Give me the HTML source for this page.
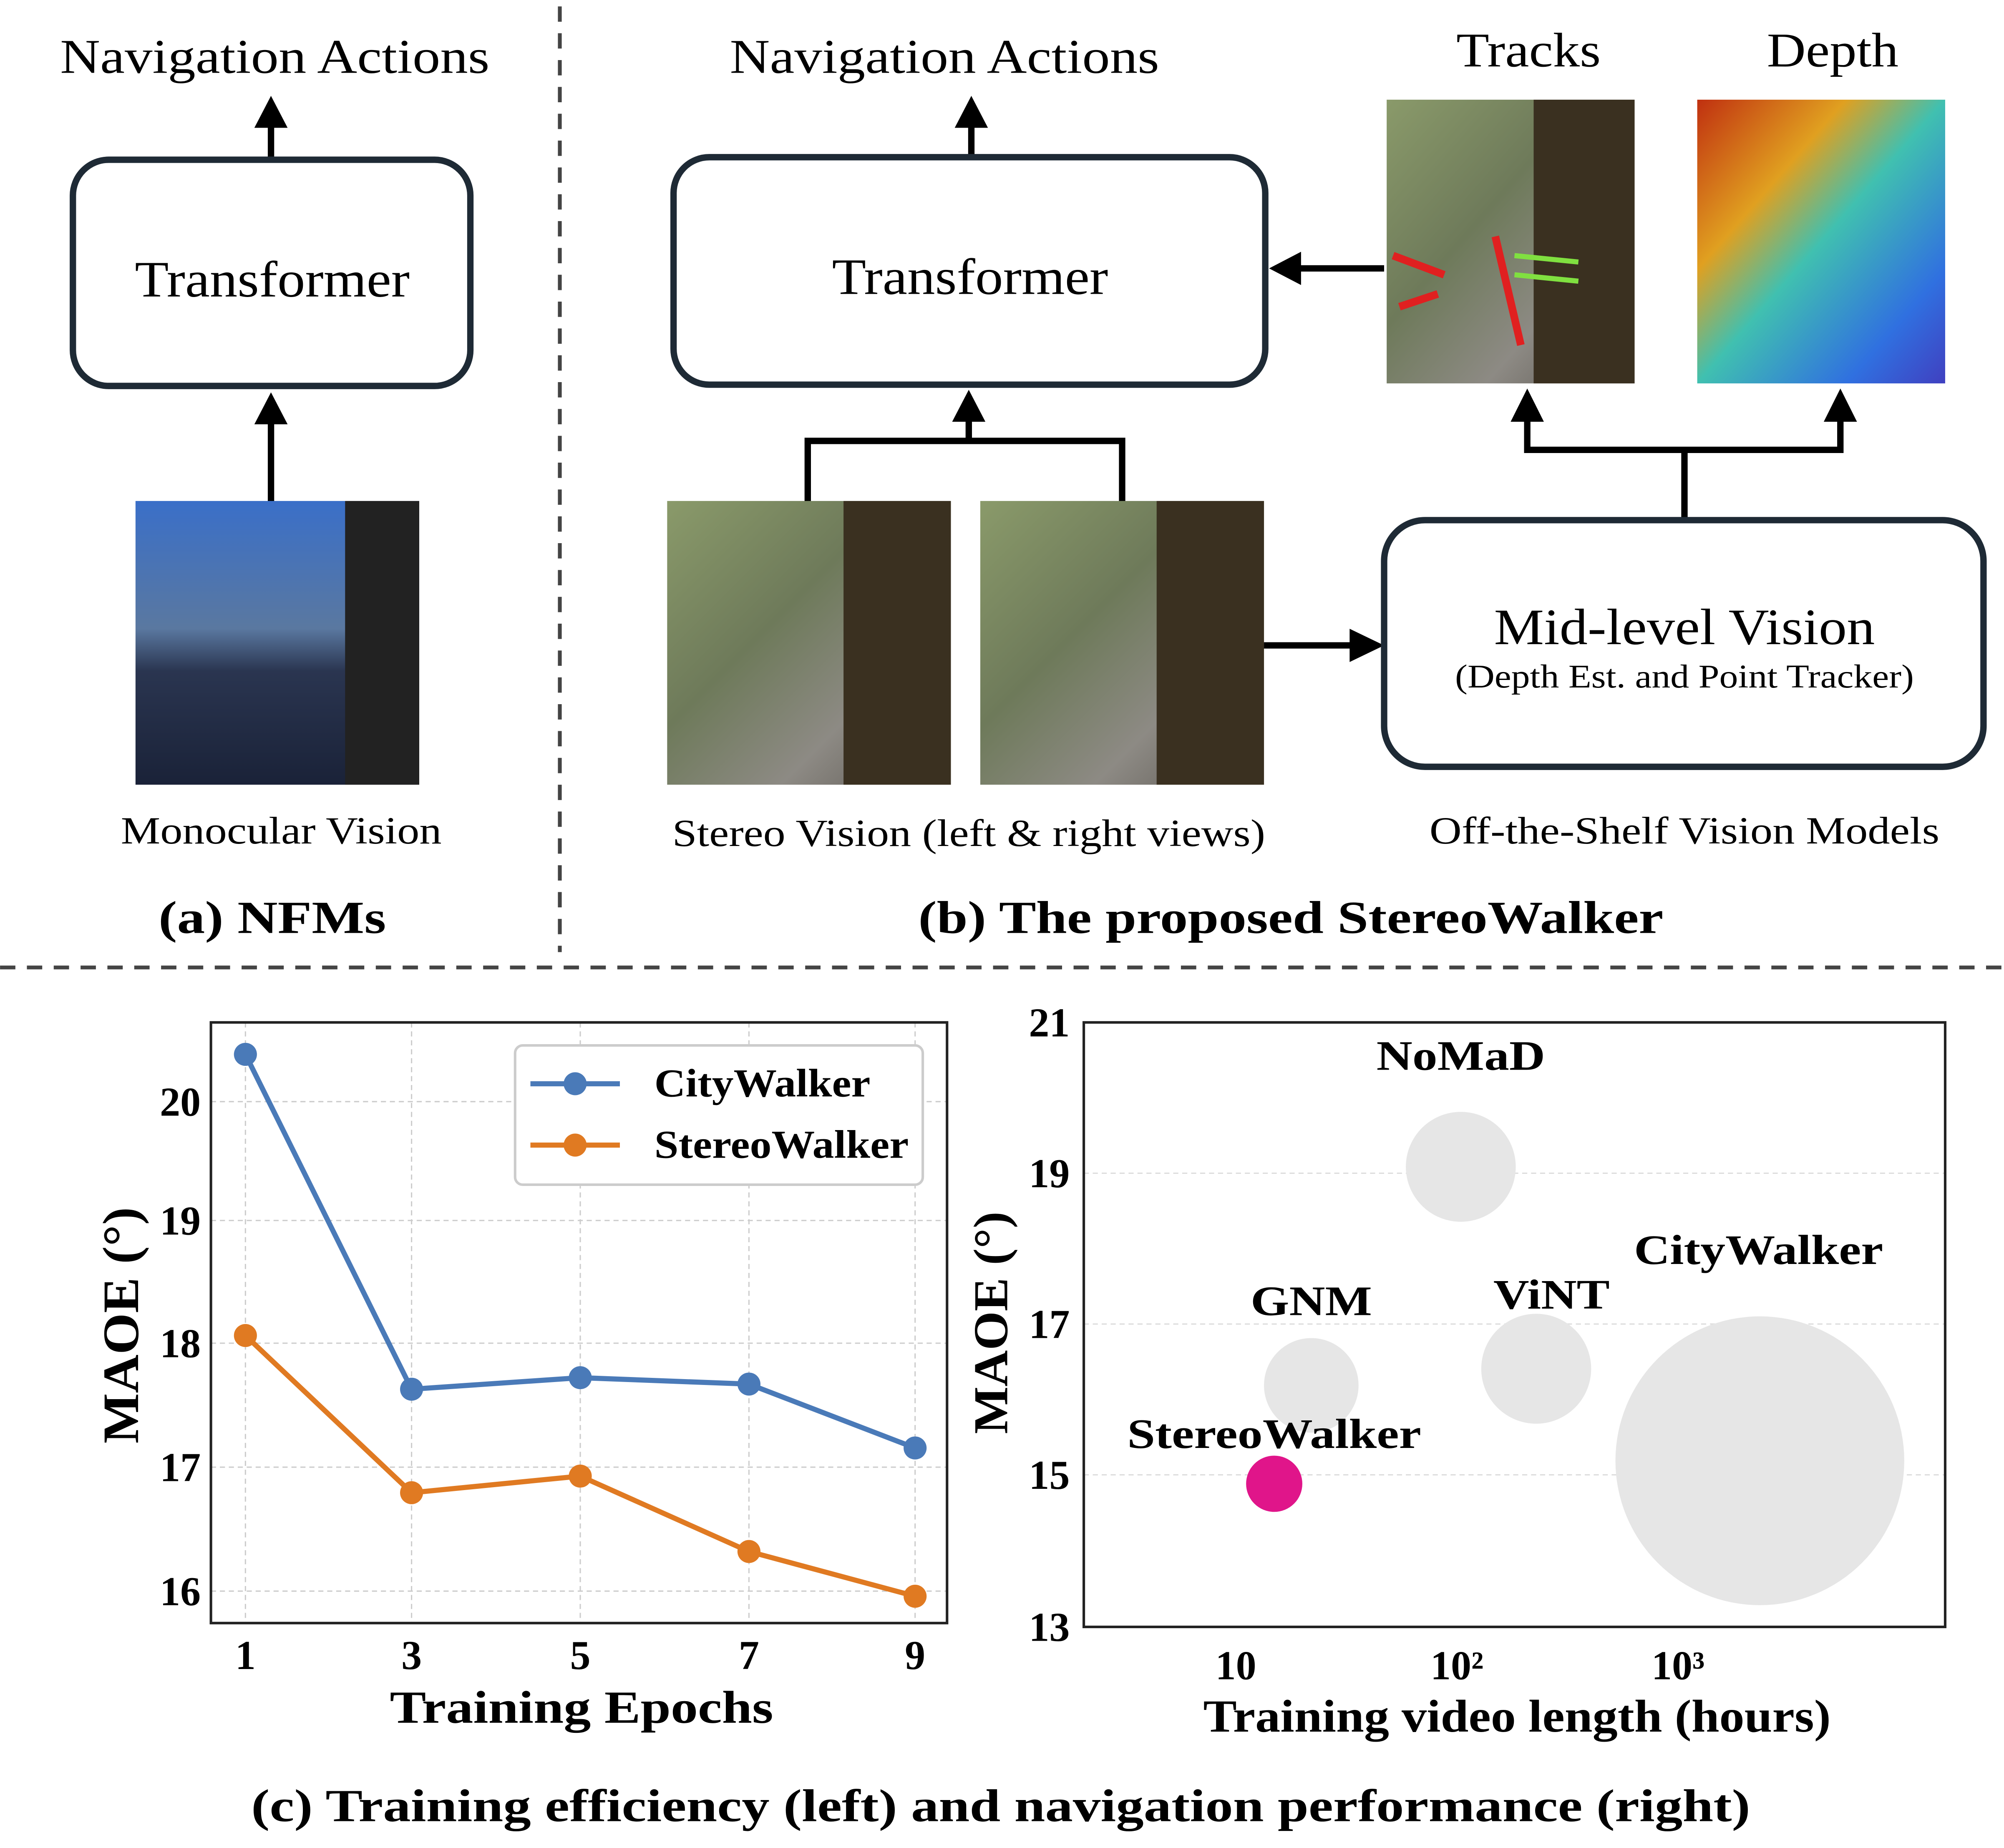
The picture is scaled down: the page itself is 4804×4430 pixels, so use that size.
<!DOCTYPE html>
<html><head><meta charset="utf-8"><style>html,body{margin:0;padding:0;background:#fff}svg{display:block}</style></head>
<body>
<svg width="4804" height="4430" viewBox="0 0 1568 1446" xmlns="http://www.w3.org/2000/svg" font-family="Liberation Serif, serif">
<defs>
<linearGradient id="sky" x1="0" y1="0" x2="0" y2="1"><stop offset="0" stop-color="#3a6fc8"/><stop offset="0.45" stop-color="#5a78a0"/><stop offset="0.6" stop-color="#2a3550"/><stop offset="1" stop-color="#1a2238"/></linearGradient>
<linearGradient id="street" x1="0" y1="0" x2="1" y2="1"><stop offset="0" stop-color="#8a9a6a"/><stop offset="0.4" stop-color="#6e7a5a"/><stop offset="0.7" stop-color="#8d8a84"/><stop offset="1" stop-color="#5a5550"/></linearGradient>
<linearGradient id="depth" x1="0" y1="0" x2="1" y2="1"><stop offset="0" stop-color="#c03010"/><stop offset="0.3" stop-color="#e0a020"/><stop offset="0.5" stop-color="#40c0b0"/><stop offset="0.8" stop-color="#3070e0"/><stop offset="1" stop-color="#4040c0"/></linearGradient>
</defs>
<g stroke="#444" stroke-width="3" stroke-dasharray="12,9">
<line x1="438" y1="5" x2="438" y2="745"/><line x1="0" y1="757" x2="1568" y2="757"/></g>
<g font-size="38" text-anchor="middle" fill="#000" lengthAdjust="spacingAndGlyphs">
<text x="215" y="57" textLength="336" lengthAdjust="spacingAndGlyphs">Navigation Actions</text>
<text x="739" y="57" textLength="336" lengthAdjust="spacingAndGlyphs">Navigation Actions</text>
<text x="1196" y="52" textLength="113" lengthAdjust="spacingAndGlyphs">Tracks</text>
<text x="1434" y="52" textLength="103" lengthAdjust="spacingAndGlyphs">Depth</text>
</g>
<g fill="none" stroke="#000" stroke-width="5">
<line x1="212" y1="125" x2="212" y2="98"/>
<line x1="212" y1="392" x2="212" y2="330"/>
<line x1="760" y1="123" x2="760" y2="98"/>
<polyline points="632,392 632,345 878,345 878,392"/>
<line x1="758" y1="345" x2="758" y2="328"/>
<line x1="989" y1="505" x2="1058" y2="505"/>
<line x1="1083" y1="210" x2="1016" y2="210"/>
<line x1="1318" y1="407" x2="1318" y2="352"/>
<polyline points="1195,328 1195,352 1440,352 1440,328"/>
</g>
<g fill="#000">
<path d="M199,100 L212,75 L225,100 z"/><path d="M199,332 L212,307 L225,332 z"/>
<path d="M747,100 L760,75 L773,100 z"/><path d="M745,330 L758,305 L771,330 z"/>
<path d="M1056,492 L1083,505 L1056,518 z"/><path d="M1018,197 L993,210 L1018,223 z"/>
<path d="M1182,330 L1195,304 L1208,330 z"/><path d="M1427,330 L1440,304 L1453,330 z"/>
</g>
<g fill="#fff" stroke="#1e2a35" stroke-width="5">
<rect x="57" y="125" width="311" height="177" rx="28"/>
<rect x="527" y="123" width="463" height="178" rx="28"/>
<rect x="1083" y="407" width="469" height="193" rx="32"/>
</g>
<g font-size="40" text-anchor="middle" fill="#000">
<text x="213" y="232" textLength="215" lengthAdjust="spacingAndGlyphs">Transformer</text>
<text x="759" y="230" textLength="216" lengthAdjust="spacingAndGlyphs">Transformer</text>
<text x="1318" y="504" textLength="298" lengthAdjust="spacingAndGlyphs">Mid-level Vision</text>
<text x="1318" y="538" font-size="26" textLength="359" lengthAdjust="spacingAndGlyphs">(Depth Est. and Point Tracker)</text>
</g>
<rect x="106" y="392" width="222" height="222" fill="url(#sky)"/>
<rect x="270" y="392" width="58" height="222" fill="#222"/>
<rect x="522" y="392" width="222" height="222" fill="url(#street)"/>
<rect x="660" y="392" width="84" height="222" fill="#3a3020"/>
<rect x="767" y="392" width="222" height="222" fill="url(#street)"/>
<rect x="905" y="392" width="84" height="222" fill="#3a3020"/>
<rect x="1085" y="78" width="194" height="222" fill="url(#street)"/>
<rect x="1200" y="78" width="79" height="222" fill="#3a3020"/>
<g stroke="#e02020" stroke-width="6" fill="none"><path d="M1090,200 L1130,215 M1170,185 L1190,270 M1095,240 L1125,230"/></g>
<g stroke="#80e040" stroke-width="4" fill="none"><path d="M1185,200 L1235,205 M1185,215 L1235,220"/></g>
<rect x="1328" y="78" width="194" height="222" fill="url(#depth)"/>
<g font-size="30" text-anchor="middle" fill="#000">
<text x="220" y="660" textLength="251" lengthAdjust="spacingAndGlyphs">Monocular Vision</text>
<text x="758" y="662" textLength="464" lengthAdjust="spacingAndGlyphs">Stereo Vision (left &amp; right views)</text>
<text x="1318" y="660" textLength="399" lengthAdjust="spacingAndGlyphs">Off-the-Shelf Vision Models</text>
</g>
<g font-size="36" font-weight="bold" text-anchor="middle" fill="#000">
<text x="213" y="730" textLength="178" lengthAdjust="spacingAndGlyphs">(a) NFMs</text>
<text x="1010" y="730" textLength="583" lengthAdjust="spacingAndGlyphs">(b) The proposed StereoWalker</text>
<text x="783" y="1425" textLength="1173" lengthAdjust="spacingAndGlyphs">(c) Training efficiency (left) and navigation performance (right)</text>
</g>
<!-- left chart -->
<g stroke="#ccc" stroke-width="1" stroke-dasharray="4,3">
<line x1="192" y1="800" x2="192" y2="1270"/><line x1="322" y1="800" x2="322" y2="1270"/><line x1="454" y1="800" x2="454" y2="1270"/><line x1="586" y1="800" x2="586" y2="1270"/><line x1="716" y1="800" x2="716" y2="1270"/>
<line x1="165" y1="862" x2="741" y2="862"/><line x1="165" y1="955" x2="741" y2="955"/><line x1="165" y1="1051" x2="741" y2="1051"/><line x1="165" y1="1148" x2="741" y2="1148"/><line x1="165" y1="1245" x2="741" y2="1245"/>
</g>
<rect x="165" y="800" width="576" height="470" fill="none" stroke="#222" stroke-width="2"/>
<polyline points="192,825 322,1087 454,1078 586,1083 716,1133" fill="none" stroke="#4a7ab8" stroke-width="4"/>
<polyline points="192,1045 322,1168 454,1155 586,1214 716,1249" fill="none" stroke="#e07a22" stroke-width="4"/>
<g fill="#4a7ab8"><circle cx="192" cy="825" r="9"/><circle cx="322" cy="1087" r="9"/><circle cx="454" cy="1078" r="9"/><circle cx="586" cy="1083" r="9"/><circle cx="716" cy="1133" r="9"/></g>
<g fill="#e07a22"><circle cx="192" cy="1045" r="9"/><circle cx="322" cy="1168" r="9"/><circle cx="454" cy="1155" r="9"/><circle cx="586" cy="1214" r="9"/><circle cx="716" cy="1249" r="9"/></g>
<rect x="403" y="818" width="319" height="109" rx="6" fill="#fff" stroke="#ccc" stroke-width="2"/>
<line x1="415" y1="848" x2="485" y2="848" stroke="#4a7ab8" stroke-width="4"/><circle cx="450" cy="848" r="9" fill="#4a7ab8"/>
<line x1="415" y1="896" x2="485" y2="896" stroke="#e07a22" stroke-width="4"/><circle cx="450" cy="896" r="9" fill="#e07a22"/>
<g font-size="31" font-weight="bold" fill="#000">
<text x="512" y="858" textLength="169" lengthAdjust="spacingAndGlyphs">CityWalker</text><text x="512" y="906" textLength="199" lengthAdjust="spacingAndGlyphs">StereoWalker</text>
</g>
<g font-size="32" font-weight="bold" fill="#000" text-anchor="end">
<text x="157" y="873">20</text><text x="157" y="966">19</text><text x="157" y="1062">18</text><text x="157" y="1159">17</text><text x="157" y="1256">16</text>
</g>
<g font-size="32" font-weight="bold" fill="#000" text-anchor="middle">
<text x="192" y="1306">1</text><text x="322" y="1306">3</text><text x="454" y="1306">5</text><text x="586" y="1306">7</text><text x="716" y="1306">9</text>
<text x="455" y="1348" font-size="36" textLength="300" lengthAdjust="spacingAndGlyphs">Training Epochs</text>
<text transform="translate(108,1037) rotate(-90)" font-size="40" textLength="185" lengthAdjust="spacingAndGlyphs">MAOE (°)</text>
<text transform="translate(788,1035) rotate(-90)" font-size="38" textLength="174" lengthAdjust="spacingAndGlyphs">MAOE (°)</text>
<text x="1187" y="1355" font-size="36" textLength="491" lengthAdjust="spacingAndGlyphs">Training video length (hours)</text>
</g>
<!-- right chart -->
<g stroke="#ddd" stroke-width="1" stroke-dasharray="4,3">
<line x1="848" y1="918" x2="1522" y2="918"/><line x1="848" y1="1036" x2="1522" y2="1036"/><line x1="848" y1="1154" x2="1522" y2="1154"/>
</g>
<rect x="848" y="800" width="674" height="473" fill="none" stroke="#222" stroke-width="2"/>
<g fill="#e6e6e6"><circle cx="1143" cy="913" r="43"/><circle cx="1026" cy="1084" r="37"/><circle cx="1202" cy="1071" r="43"/><circle cx="1377" cy="1143" r="113"/></g>
<circle cx="997" cy="1161" r="22" fill="#e0158a"/>
<g font-size="32" font-weight="bold" fill="#000" text-anchor="end">
<text x="837" y="811">21</text><text x="837" y="929">19</text><text x="837" y="1047">17</text><text x="837" y="1165">15</text><text x="837" y="1284">13</text>
</g>
<g font-size="33" font-weight="bold" fill="#000" text-anchor="middle">
<text x="967" y="1314" font-size="32">10</text><text x="1140" y="1314" font-size="32">10²</text><text x="1313" y="1314" font-size="32">10³</text>
<text x="1143" y="837" textLength="132" lengthAdjust="spacingAndGlyphs">NoMaD</text><text x="1026" y="1029" textLength="95" lengthAdjust="spacingAndGlyphs">GNM</text><text x="1214" y="1024" textLength="91" lengthAdjust="spacingAndGlyphs">ViNT</text><text x="1376" y="989" textLength="195" lengthAdjust="spacingAndGlyphs">CityWalker</text><text x="997" y="1133" textLength="230" lengthAdjust="spacingAndGlyphs">StereoWalker</text>
</g>
</svg>
</body></html>
